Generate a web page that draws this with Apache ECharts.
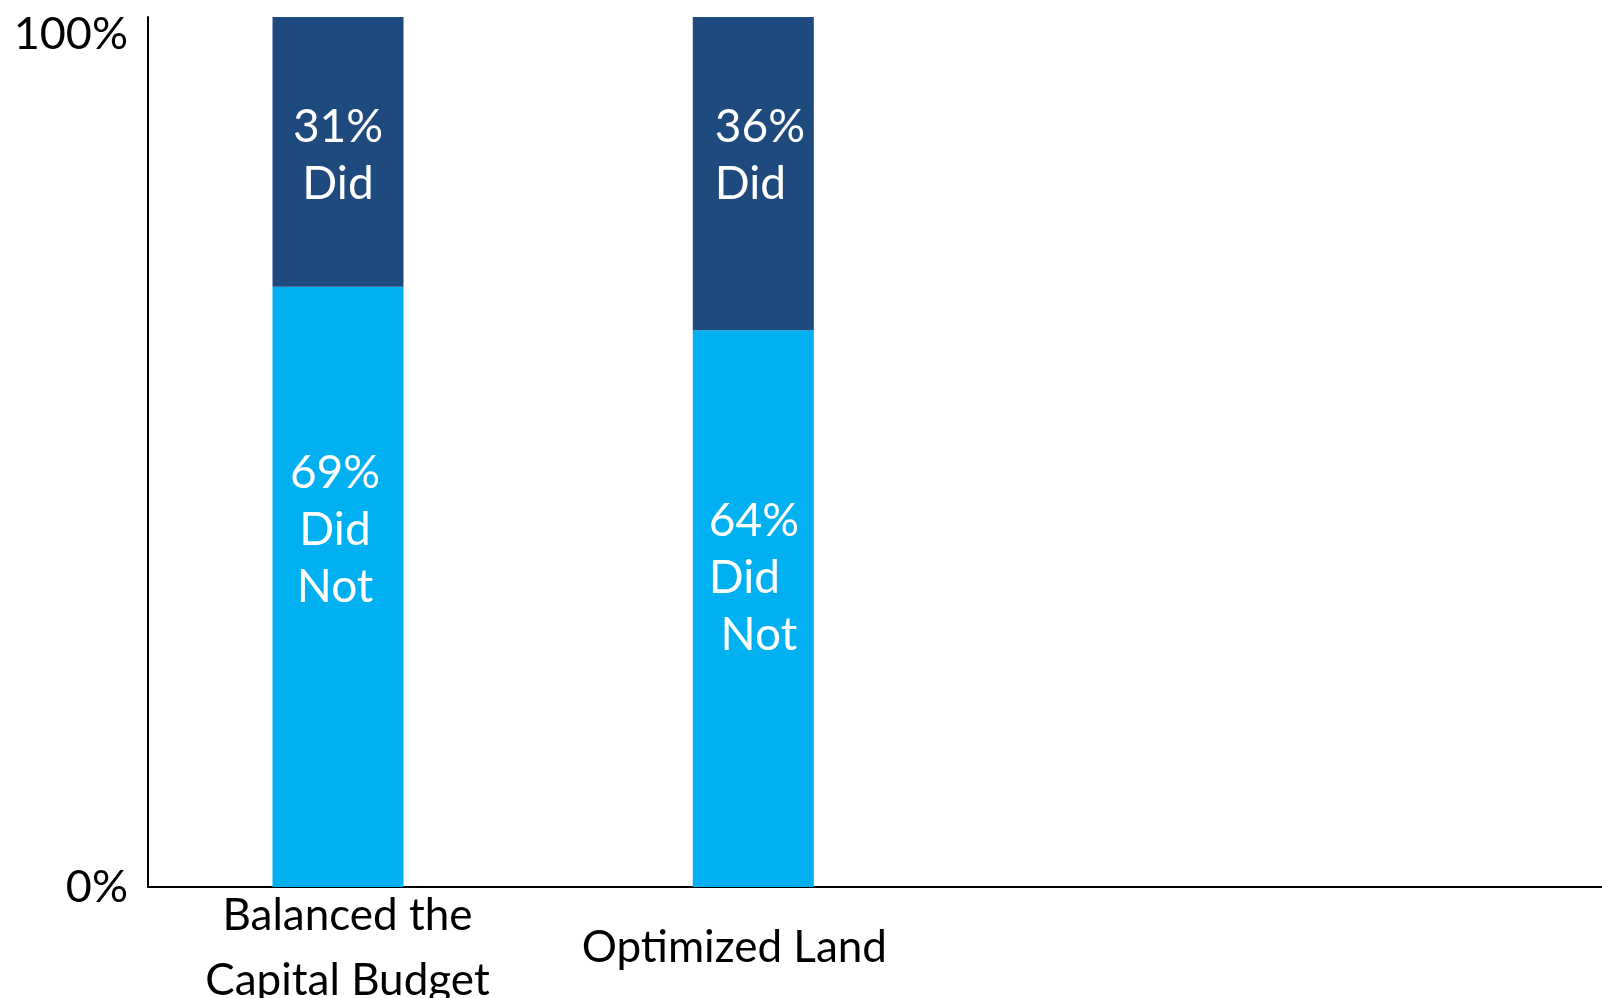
<!DOCTYPE html>
<html>
<head>
<meta charset="utf-8">
<title>Did / Did Not</title>
<script src="https://cdn.jsdelivr.net/npm/echarts@6/dist/echarts.min.js"></script>
<style>
  html, body { margin: 0; padding: 0; background: #fff; }
  #chart { width: 1602px; height: 998px; }
</style>
</head>
<body>
<div id="chart"></div>
<script>
// Survey results: share of respondents who did / did not do each item
const categories = ['Balanced the\nCapital Budget', 'Optimized Land'];
const didNot = [69, 64];
const did = [31, 36];
const yTickValues = [0, 100];

const FONT = 'Lato';
const DARK = '#1F4A7E';
const LIGHT = '#00B0F0';

// per-column presentation
const barWidths = [131, 121];
const segmentLabels = [
  {
    didNot: { position: 'inside', offset: [-3, -57], align: 'center', tail: '\nDid\nNot' },
    did:    { position: 'inside', offset: [0, 4], align: 'center', tail: '\nDid' }
  },
  {
    didNot: { position: 'insideLeft', distance: 16, offset: [0, -30], tail: '\nDid\n Not' },
    did:    { position: 'insideLeft', distance: 22, offset: [0, -18], tail: '\nDid' }
  }
];
const axisLabelShift = [29, -38];

function segLabel(cfg) {
  return {
    show: true,
    position: cfg.position,
    distance: cfg.distance,
    offset: cfg.offset,
    color: '#fff',
    fontFamily: FONT,
    fontSize: 46,
    lineHeight: 57,
    align: cfg.align,
    formatter: p => p.value[0] + '%' + cfg.tail
  };
}

// each data row is [percent, column index]; percent is the stacked dimension
const series = [];
categories.forEach((cat, i) => {
  [[didNot, 'Did Not', LIGHT, 'didNot'], [did, 'Did', DARK, 'did']].forEach(([values, name, color, key]) => {
    series.push({
      name: name,
      type: 'bar',
      stack: 'col' + i,
      barWidth: barWidths[i],
      barGap: '-100%',
      dimensions: ['pct', 'col'],
      encode: { x: 'col', y: 'pct' },
      itemStyle: { color: color },
      label: segLabel(segmentLabels[i][key]),
      data: [[values[i], i]]
    });
  });
});

const chart = echarts.init(document.getElementById('chart'));
chart.setOption({
  animation: false,
  backgroundColor: '#fff',
  grid: { left: 148, right: 0, top: 17, bottom: 111, containLabel: false, outerBoundsMode: 'none' },
  xAxis: {
    type: 'value',
    min: -0.4402,
    max: 3.0193,
    splitLine: { show: false },
    axisTick: { show: false },
    axisLine: { show: true, onZero: false, lineStyle: { color: '#000', width: 2 } },
    axisLabel: {
      customValues: categories.map((c, i) => i),
      margin: 61,
      verticalAlign: 'middle',
      color: '#000',
      fontFamily: FONT,
      fontSize: 44,
      lineHeight: 65,
      formatter: v => {
        const i = Math.round(v);
        const key = i === 0 ? 'a' : 'b';
        return categories[i].split('\n').map(s => '{' + key + '|' + s + '}').join('\n');
      },
      rich: {
        a: { padding: [0, 0, 0, axisLabelShift[0]], fontFamily: FONT, fontSize: 44, lineHeight: 65, color: '#000' },
        b: { padding: [0, -axisLabelShift[1], 0, 0], fontFamily: FONT, fontSize: 44, lineHeight: 65, color: '#000' }
      }
    }
  },
  yAxis: {
    type: 'value',
    min: yTickValues[0],
    max: yTickValues[1],
    interval: yTickValues[1] - yTickValues[0],
    splitLine: { show: false },
    axisTick: { show: false },
    axisLine: { show: true, onZero: false, lineStyle: { color: '#000', width: 2 } },
    axisLabel: {
      margin: 20,
      color: '#000',
      fontFamily: FONT,
      fontSize: 45,
      formatter: v => v === yTickValues[1] ? '{top|' + v + '%}' : v + '%',
      rich: {
        top: { padding: [34, 0, 0, 0], fontFamily: FONT, fontSize: 45, color: '#000' }
      }
    }
  },
  series: series
});
</script>
</body>
</html>
